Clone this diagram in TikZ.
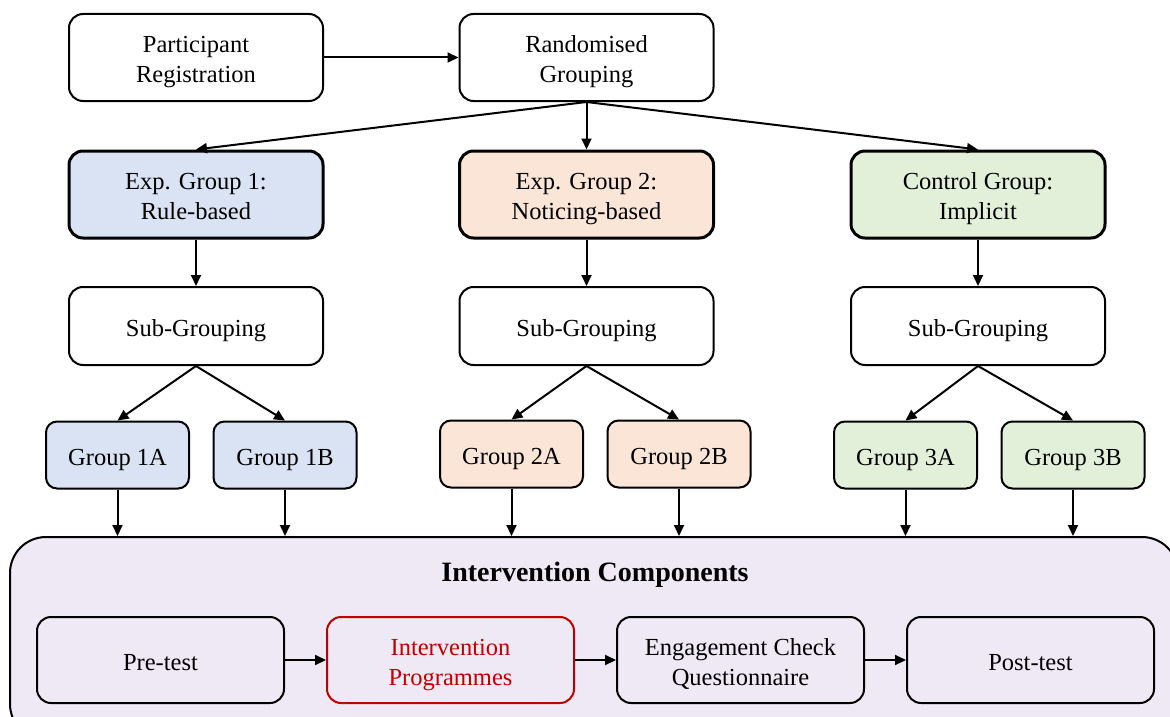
\documentclass[tikz,border=0pt]{standalone}
\usepackage{fontspec}
\setmainfont{Liberation Serif}
\usetikzlibrary{arrows.meta}
\definecolor{bluefill}{HTML}{DAE3F3}
\definecolor{orangefill}{HTML}{FBE5D6}
\definecolor{greenfill}{HTML}{E2F0D9}
\definecolor{panelfill}{HTML}{EFE9F5}
\definecolor{accentred}{HTML}{C00000}
% centred lines of text, set a little below the optical centre of the box
\newcommand\lbl[1]{\raisebox{-4pt}[\height][\depth]{\begin{tabular}{@{}c@{}}#1\end{tabular}}}
\begin{document}
\begin{tikzpicture}[x=1pt,y=-1pt,
  every node/.style={font=\fontsize{24.5}{30}\selectfont, align=center, inner sep=0pt},
  box/.style={draw, line width=2pt, rounded corners=14pt, fill=white},
  bigbox/.style={box, minimum width=254pt, minimum height=87pt},
  subbox/.style={box, minimum width=254pt, minimum height=78pt},
  expbox/.style={bigbox, line width=3pt},
  grpbox/.style={box, rounded corners=11pt, minimum width=143pt, minimum height=67pt},
  stepbox/.style={box, minimum width=247pt, minimum height=86pt, fill=none},
  arr/.style={line width=2pt, -{Triangle[length=11pt,width=10pt]}}]
\useasboundingbox (0,0) rectangle (1170,717);
\clip (0,0) rectangle (1170,717);

% top row
\node[bigbox] (pr) at (196,57.5) {\lbl{Participant\\Registration}};
\node[bigbox] (rg) at (586.5,57.5) {\lbl{Randomised\\Grouping}};

% experimental / control groups
\node[expbox, fill=bluefill]   (e1) at (196,194.5)   {\lbl{Exp. Group 1:\\Rule-based}};
\node[expbox, fill=orangefill] (e2) at (586.5,194.5) {\lbl{Exp. Group 2:\\Noticing-based}};
\node[expbox, fill=greenfill]  (e3) at (978,194.5)   {\lbl{Control Group:\\Implicit}};

% sub-grouping
\node[subbox] (s1) at (196,326)   {\lbl{Sub-Grouping}};
\node[subbox] (s2) at (586.5,326) {\lbl{Sub-Grouping}};
\node[subbox] (s3) at (978,326)   {\lbl{Sub-Grouping}};

% sub-groups
\node[grpbox, fill=bluefill]   (g1a) at (117.5,455)  {\lbl{Group 1A}};
\node[grpbox, fill=bluefill]   (g1b) at (285,455)    {\lbl{Group 1B}};
\node[grpbox, fill=orangefill] (g2a) at (511.5,454)  {\lbl{Group 2A}};
\node[grpbox, fill=orangefill] (g2b) at (679,454)    {\lbl{Group 2B}};
\node[grpbox, fill=greenfill]  (g3a) at (905.5,455)  {\lbl{Group 3A}};
\node[grpbox, fill=greenfill]  (g3b) at (1073,455)   {\lbl{Group 3B}};

% intervention panel
\node[box, fill=panelfill, rounded corners=36pt, minimum width=1168pt, minimum height=203pt] (ic) at (594,638.5) {};
\node[font=\fontsize{28}{32}\selectfont\bfseries] (ict) at (595,575) {Intervention Components};
\node[stepbox] (pre)  at (160.5,660)  {\lbl{Pre-test}};
\node[stepbox, draw=accentred, text=accentred] (ip) at (450.5,660) {\lbl{Intervention\\Programmes}};
\node[stepbox] (ec)   at (740.5,660)  {\lbl{Engagement Check\\Questionnaire}};
\node[stepbox] (post) at (1030.5,660) {\lbl{Post-test}};

% connectors
\draw[arr] (pr) -- (rg);
\draw[arr] (rg.south) -- (e1.north);
\draw[arr] (rg.south) -- (e2.north);
\draw[arr] (rg.south) -- (e3.north);
\foreach \e/\s in {e1/s1,e2/s2,e3/s3} \draw[arr] (\e) -- (\s);
\foreach \s/\a/\b in {s1/g1a/g1b,s2/g2a/g2b,s3/g3a/g3b} {
  \draw[arr] (\s.south) -- (\a.north);
  \draw[arr] (\s.south) -- (\b.north);
}
\foreach \g in {g1a,g1b,g2a,g2b,g3a,g3b} \draw[arr] (\g.south) -- (\g.south |- ic.north);
\draw[arr] (pre) -- (ip);
\draw[arr] (ip) -- (ec);
\draw[arr] (ec) -- (post);
\end{tikzpicture}
\end{document}
